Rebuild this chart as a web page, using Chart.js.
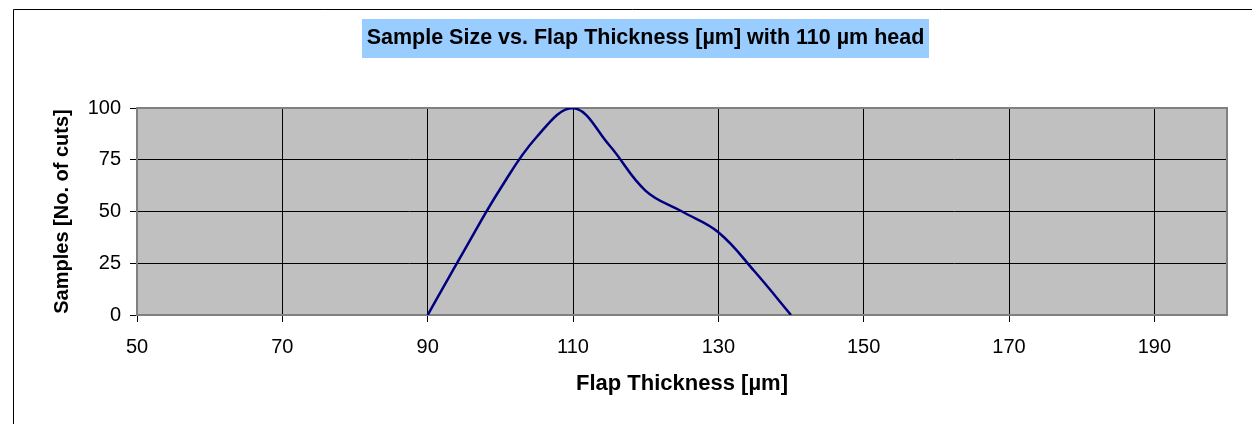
<!DOCTYPE html>
<html>
<head>
<meta charset="utf-8">
<script src="https://cdn.jsdelivr.net/npm/chart.js@4.4.1/dist/chart.umd.min.js"></script>
<style>
  html, body { margin: 0; padding: 0; background: #fff; }
</style>
</head>
<body>
<canvas id="flapChart" width="1252" height="424"></canvas>
<script>
// du lieu doc tu hinh (do day vat - so mau)
const thickness = [90, 95, 100, 105, 110, 115, 120, 125, 130, 135, 140];
const samples = [0, 31, 61, 86, 100, 82, 60, 50, 40, 21, 0];
const xTicks = [50, 70, 90, 110, 130, 150, 170, 190];
const xMax = 200;
const yTicks = [0, 25, 50, 75, 100];

const chartTitle = "Sample Size vs. Flap Thickness [µm] with 110 µm head";
const xTitle = "Flap Thickness [µm]";
const yTitle = "Samples [No. of cuts]";

const FONT = "'Liberation Sans', Arial, sans-serif";

// plugin ve khung, nen tieu de, nen vung ve
const decor = {
  id: "decor",
  afterLayout(chart) {
    // dat o tieu de lech trai nhu hinh goc
    const t = chart.titleBlock;
    t.left = 362;
    t.right = 929;
  },
  beforeDraw(chart) {
    const ctx = chart.ctx;
    const a = chart.chartArea;
    const t = chart.titleBlock;
    ctx.save();
    ctx.fillStyle = "#fff";
    ctx.fillRect(0, 0, chart.width, chart.height);
    // khung ngoai
    ctx.strokeStyle = "#000";
    ctx.lineWidth = 1;
    ctx.beginPath();
    ctx.moveTo(13.5, chart.height);
    ctx.lineTo(13.5, 9.5);
    ctx.lineTo(chart.width, 9.5);
    ctx.stroke();
    // nen tieu de
    ctx.fillStyle = "#99CCFF";
    ctx.fillRect(t.left, t.top, t.right - t.left, 39);
    // nen xam
    ctx.fillStyle = "#C0C0C0";
    ctx.fillRect(a.left, a.top, a.right - a.left, a.bottom - a.top);
    ctx.restore();
  },
  beforeDatasetsDraw(chart) {
    const ctx = chart.ctx;
    const a = chart.chartArea;
    ctx.save();
    ctx.strokeStyle = "#808080";
    ctx.lineWidth = 2;
    ctx.strokeRect(a.left, a.top, a.right - a.left, a.bottom - a.top);
    ctx.restore();
  }
};

const ctx = document.getElementById("flapChart").getContext("2d");
const flapChart = new Chart(ctx, {
  type: "line",
  data: {
    datasets: [
      {
        label: "Samples",
        data: thickness.map((t, i) => ({ x: t, y: samples[i] })),
        borderColor: "#000080",
        borderWidth: 2.5,
        pointRadius: 0,
        tension: 0.4,
        fill: false,
      },
    ],
  },
  options: {
    responsive: false,
    animation: false,
    devicePixelRatio: 1,
    layout: { padding: { left: 14, right: 25, top: 19, bottom: 0 } },
    plugins: {
      legend: { display: false },
      tooltip: { enabled: false },
      title: {
        display: true,
        text: chartTitle,
        color: "#000",
        font: { family: FONT, size: 21.5, weight: "bold", lineHeight: 1.2 },
        padding: { top: 6.6, bottom: 56.6 },
      },
    },
    scales: {
      x: {
        type: "linear",
        min: 50,
        max: xMax,
        afterBuildTicks: (s) => {
          s.ticks = xTicks.concat([xMax]).map((v) => ({ value: v }));
        },
        afterFit: (s) => {
          s.height = 109;
        },
        grid: {
          color: "#000",
          lineWidth: 1,
          tickLength: 7,
          tickColor: (c) => (c.tick && c.tick.value === xMax ? "rgba(0,0,0,0)" : "#000"),
        },
        border: { display: false },
        ticks: {
          color: "#000",
          font: { family: FONT, size: 20 },
          padding: 13,
          maxRotation: 0,
          autoSkip: false,
          callback: (v) => (xTicks.includes(v) ? v : ""),
        },
        title: {
          display: true,
          text: xTitle,
          color: "#000",
          font: { family: FONT, size: 22, weight: "bold", lineHeight: 1.2 },
          padding: { top: 6, bottom: 27 },
        },
      },
      y: {
        min: 0,
        max: 100,
        afterBuildTicks: (s) => {
          s.ticks = yTicks.map((v) => ({ value: v }));
        },
        afterFit: (s) => {
          s.width = 137 - 14;
        },
        grid: { color: "#000", lineWidth: 1, tickLength: 7, tickColor: "#000" },
        border: { display: false },
        ticks: {
          color: "#000",
          font: { family: FONT, size: 20 },
          padding: 9,
        },
        title: {
          display: true,
          text: yTitle,
          color: "#000",
          font: { family: FONT, size: 20, weight: "bold", lineHeight: 1.2 },
          padding: { top: 36, bottom: 9 },
        },
      },
    },
  },
  plugins: [decor],
});
</script>
</body>
</html>
